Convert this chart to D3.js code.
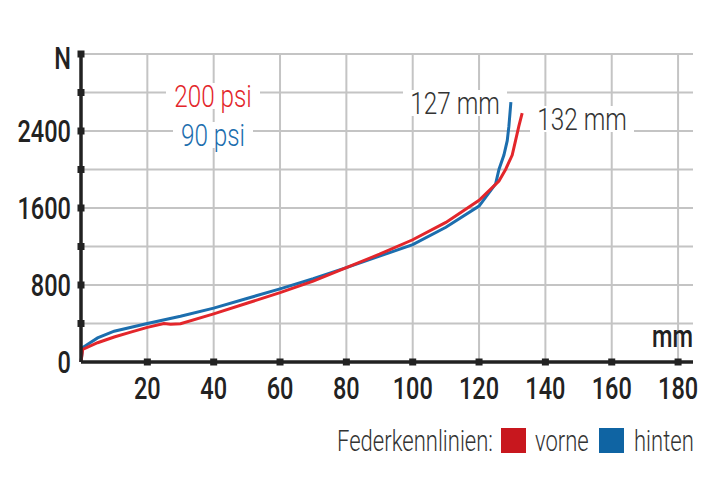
<!DOCTYPE html>
<html><head><meta charset="utf-8">
<script src="https://cdn.jsdelivr.net/npm/d3@7"></script>
<style>body{margin:0;background:#fff}text{font-family:Roboto,"DejaVu Sans",sans-serif;fill:#222}</style>
</head><body><svg id="c" width="712" height="477"></svg>
<script>
var xTicks = [20, 40, 60, 80, 100, 120, 140, 160, 180];
var yGrid = [400, 800, 1200, 1600, 2000, 2400, 2800, 3200];
var yLabels = [0, 800, 1600, 2400];
// vorne, 200 psi
var vorne = [[0,0],[0.5,130],[5,200],[10,260],[15,310],[20,360],[25,400],[27,392],[30,398],[40,500],[50,610],[60,720],[70,840],[80,980],[90,1120],[100,1270],[110,1450],[120,1680],[126,1880],[128,2000],[130,2150],[131,2300],[132,2450],[133,2585]];
// hinten, 90 psi
var hinten = [[0,0],[0.5,150],[5,250],[10,320],[20,400],[30,475],[40,560],[50,660],[60,760],[70,865],[80,980],[90,1100],[100,1220],[110,1400],[120,1620],[125,1850],[126,2000],[127.5,2150],[128.5,2300],[129,2450],[129.6,2700]];
var red = "#e3262b", blue = "#1c6eae";
var SX = 0.76; // condensed look

var svg = d3.select("#c");
var x = d3.scaleLinear().domain([0, 184.5]).range([81, 693]);
var y = d3.scaleLinear().domain([0, 3200]).range([362, 54]);

// condensed text helper
function ctext(t, px, py, size, anchor, col) {
  return svg.append("text").attr("transform", "translate(" + px + "," + py + ") scale(" + SX + ",1)")
    .attr("text-anchor", anchor || "start").attr("font-size", size).style("fill", col || "#222").text(t);
}

// grid
svg.selectAll(".gv").data(xTicks).enter().append("line")
  .attr("x1", d => x(d)).attr("x2", d => x(d)).attr("y1", y(3200)).attr("y2", y(0))
  .attr("stroke", "#c4c4c4").attr("stroke-width", 2);
svg.selectAll(".gh").data(yGrid).enter().append("line")
  .attr("x1", x(0)).attr("x2", x(184.5)).attr("y1", d => y(d)).attr("y2", d => y(d))
  .attr("stroke", "#c4c4c4").attr("stroke-width", 2);

// labels with white backdrop
function label(t, px, py, col, w) {
  svg.append("rect").attr("x", px - w / 2 - 4).attr("y", py - 24).attr("width", w + 8).attr("height", 26).attr("fill", "#fff");
  ctext(t, px, py, 32, "middle", col).attr("font-weight", 300);
}
label("200 psi", 213, 107, red, 86);
label("90 psi", 213, 146, blue, 72);
label("127 mm", 455, 114, "#333", 96);
label("132 mm", 582, 130, "#333", 96);

// curves
var line = d3.line().x(d => x(d[0])).y(d => y(d[1]));
svg.append("path").datum(hinten).attr("d", line)
  .attr("fill", "none").attr("stroke", blue).attr("stroke-width", 3);
svg.append("path").datum(vorne).attr("d", line)
  .attr("fill", "none").attr("stroke", red).attr("stroke-width", 3);

// axes
svg.append("line").attr("x1", x(0)).attr("x2", x(184.5)).attr("y1", y(0)).attr("y2", y(0)).attr("stroke", "#222").attr("stroke-width", 3.5);
svg.append("line").attr("x1", x(0)).attr("x2", x(0)).attr("y1", y(3200)).attr("y2", y(0)).attr("stroke", "#222").attr("stroke-width", 3.5);
svg.selectAll(".tx").data(xTicks).enter().append("rect")
  .attr("x", d => x(d) - 3.5).attr("y", y(0) - 3.5).attr("width", 7).attr("height", 7).attr("fill", "#222");
svg.selectAll(".ty").data(yGrid).enter().append("rect")
  .attr("x", x(0) - 3.5).attr("y", d => y(d) - 3.5).attr("width", 7).attr("height", 7).attr("fill", "#222");

xTicks.forEach(d => ctext(d, x(d), 399, 31, "middle").attr("font-weight", 500));
yLabels.forEach(d => ctext(d, 71, y(d) + 11, 31, "end").attr("font-weight", 500));
ctext("N", 71, 69, 31, "end").attr("font-weight", 500);
ctext("mm", 693, 347, 31, "end").attr("font-weight", 500);

// legend
ctext("Federkennlinien:", 493, 451, 29, "end", "#333").attr("font-weight", 300);
svg.append("rect").attr("x", 501).attr("y", 428).attr("width", 25).attr("height", 25).attr("fill", "#c8171e");
ctext("vorne", 535, 451, 29, "start", "#333").attr("font-weight", 300);
svg.append("rect").attr("x", 599).attr("y", 428).attr("width", 25).attr("height", 25).attr("fill", "#0f64a3");
ctext("hinten", 634, 451, 29, "start", "#333").attr("font-weight", 300);
</script></body></html>
